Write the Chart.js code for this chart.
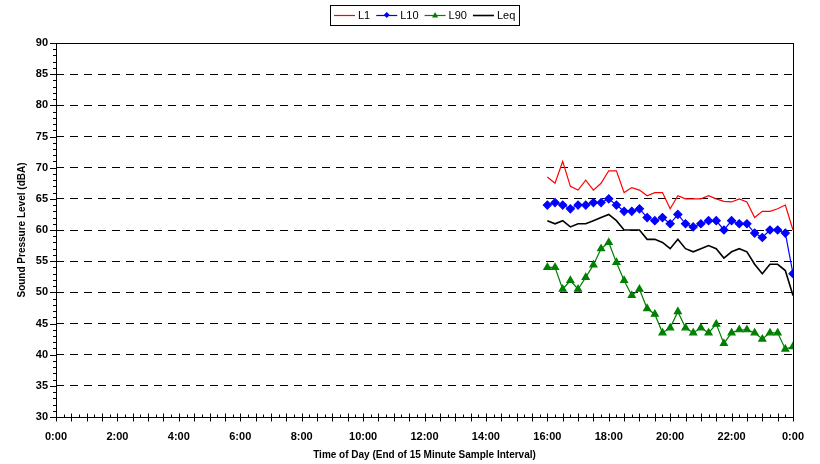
<!DOCTYPE html>
<html>
<head>
<meta charset="utf-8">
<style>
  html, body { margin: 0; padding: 0; background: #fff; }
  #wrap { width: 820px; height: 464px; }
</style>
<script src="https://cdn.jsdelivr.net/npm/chart.js@4.4.1/dist/chart.umd.min.js"></script>
</head>
<body>
<div id="wrap"><canvas id="myChart" width="820" height="464"></canvas></div>
<script>
// end of each 15 minute interval
var times = ['16:00','16:15','16:30','16:45','17:00','17:15','17:30','17:45',
  '18:00','18:15','18:30','18:45','19:00','19:15','19:30','19:45',
  '20:00','20:15','20:30','20:45','21:00','21:15','21:30','21:45',
  '22:00','22:15','22:30','22:45','23:00','23:15','23:30','23:45','0:00'];

var L1 = [68.5, 67.5, 71.0, 67.0, 66.4, 68.0, 66.4, 67.5, 69.5, 69.5, 66.0, 66.8, 66.4, 65.5, 66.0, 66.0,
  63.4, 65.5, 65.0, 65.0, 65.0, 65.5, 65.0, 64.6, 64.5, 65.0, 64.5, 62.0, 63.0, 63.0, 63.4, 64.0, 60.0];
var L10 = [64.0, 64.4, 64.0, 63.4, 64.0, 64.0, 64.4, 64.4, 65.0, 64.0, 63.0, 63.0, 63.4, 62.0, 61.5, 62.0,
  61.0, 62.5, 61.0, 60.5, 61.0, 61.5, 61.5, 60.0, 61.5, 61.0, 61.0, 59.5, 58.8, 60.0, 60.0, 59.5, 53.0];
var L90 = [54.0, 54.0, 50.5, 51.9, 50.5, 52.4, 54.4, 57.0, 58.0, 54.8, 51.9, 49.5, 50.5, 47.4, 46.5, 43.5,
  44.3, 46.9, 44.3, 43.5, 44.3, 43.5, 44.9, 41.8, 43.5, 44.0, 44.0, 43.5, 42.5, 43.5, 43.5, 40.9, 41.3];
var Leq = [61.5, 61.0, 61.5, 60.5, 61.0, 61.0, 61.5, 62.0, 62.5, 61.5, 60.0, 60.0, 60.0, 58.5, 58.5, 58.0,
  57.0, 58.5, 57.0, 56.5, 57.0, 57.5, 57.0, 55.5, 56.5, 57.0, 56.5, 54.5, 53.0, 54.5, 54.5, 53.5, 49.5];

// time strings -> hours on a 0..24 axis (midnight at the end becomes 24)
var hours = [];
times.forEach(function(t, i) {
  var p = t.split(':');
  var h = +p[0] + p[1] / 60;
  if (i > 0 && h < hours[i - 1]) h += 24;
  hours.push(h);
});

function pts(arr) {
  return arr.map(function(v, i) { return { x: hours[i], y: v }; });
}

Chart.defaults.font.family = "'Liberation Sans', Arial, sans-serif";
Chart.defaults.color = '#000';

// frame, small tick marks and the boxed legend
var decor = {
  id: 'decor',
  afterDraw: function(chart) {
    var c = chart.ctx, a = chart.chartArea;
    var xs = chart.scales.x, ys = chart.scales.y;
    c.save();
    c.strokeStyle = '#000';
    c.lineWidth = 1;
    c.strokeRect(Math.round(a.left) + 0.5, Math.round(a.top) + 0.5,
      Math.round(a.right - a.left), Math.round(a.bottom - a.top));

    c.beginPath();
    for (var v = 30; v <= 90; v++) {
      var y = Math.round(ys.getPixelForValue(v)) + 0.5;
      var len = v % 5 === 0 ? 6 : 3;
      c.moveTo(a.left - len, y);
      c.lineTo(a.left, y);
    }
    for (var q = 0; q <= 96; q++) {
      var x = Math.round(xs.getPixelForValue(q / 4)) + 0.5;
      var b = Math.round(a.bottom) + 0.5;
      if (q % 2 === 0) { c.moveTo(x, b - 4); c.lineTo(x, b + 4); }
      else { c.moveTo(x, b - 3); c.lineTo(x, b); }
    }
    c.stroke();

    // legend
    c.font = "11px 'Liberation Sans', Arial, sans-serif";
    c.textBaseline = 'middle';
    var items = chart.data.datasets;
    var lineLen = 21, gap = 3, sep = 6, pad = 4;
    var total = pad * 2;
    items.forEach(function(d, i) {
      total += lineLen + gap + c.measureText(d.label).width + (i < items.length - 1 ? sep : 0);
    });
    var cx = (a.left + a.right) / 2;
    var x0 = Math.round(cx - total / 2), top = 5, h = 20, my = top + h / 2;
    c.fillStyle = '#fff';
    c.fillRect(x0, top, total, h);
    c.strokeRect(x0 + 0.5, top + 0.5, Math.round(total), h);
    var px = x0 + pad;
    items.forEach(function(d) {
      c.strokeStyle = d.borderColor;
      c.lineWidth = d.borderWidth;
      c.beginPath();
      c.moveTo(px, my + 0.5);
      c.lineTo(px + lineLen, my + 0.5);
      c.stroke();
      var mx = px + lineLen / 2, r = 3;
      c.fillStyle = d.borderColor;
      if (d.pointStyle === 'rectRot') {
        c.beginPath();
        c.moveTo(mx, my - r); c.lineTo(mx + r, my); c.lineTo(mx, my + r); c.lineTo(mx - r, my);
        c.closePath(); c.fill();
      } else if (d.pointStyle === 'triangle') {
        c.beginPath();
        c.moveTo(mx, my - r); c.lineTo(mx + r, my + r * 0.8); c.lineTo(mx - r, my + r * 0.8);
        c.closePath(); c.fill();
      }
      px += lineLen + gap;
      c.fillStyle = '#000';
      c.fillText(d.label, px, my + 0.5);
      px += c.measureText(d.label).width + sep;
    });
    c.restore();
  }
};

var ctx = document.getElementById('myChart').getContext('2d');
var myChart = new Chart(ctx, {
  type: 'line',
  data: {
    datasets: [{
      label: 'L1',
      data: pts(L1),
      borderColor: '#ff0000',
      borderWidth: 1.2,
      pointRadius: 0
    }, {
      label: 'L10',
      data: pts(L10),
      borderColor: '#0000ff',
      backgroundColor: '#0000ff',
      borderWidth: 1.2,
      pointStyle: 'rectRot',
      pointRadius: 4
    }, {
      label: 'L90',
      data: pts(L90),
      borderColor: '#008000',
      backgroundColor: '#008000',
      borderWidth: 1.2,
      pointStyle: 'triangle',
      pointRadius: 4
    }, {
      label: 'Leq',
      data: pts(Leq),
      borderColor: '#000000',
      borderWidth: 1.6,
      pointRadius: 0
    }]
  },
  options: {
    responsive: false,
    animation: false,
    layout: { padding: { top: 43, right: 27, bottom: 0, left: 0 } },
    elements: { line: { tension: 0 }, point: { borderWidth: 0 } },
    plugins: {
      legend: { display: false },
      tooltip: { enabled: false }
    },
    scales: {
      x: {
        type: 'linear',
        min: 0,
        max: 24,
        afterFit: function(s) { s.height = 47; },
        ticks: {
          stepSize: 2,
          padding: 13,
          font: { size: 11, weight: 'bold' },
          maxRotation: 0,
          callback: function(v) { return (v % 24) + ':00'; }
        },
        grid: { display: false, drawTicks: false },
        border: { display: false },
        title: {
          display: true,
          text: 'Time of Day (End of 15 Minute Sample Interval)',
          font: { size: 10, weight: 'bold' },
          padding: { top: 0, bottom: 3 }
        }
      },
      y: {
        min: 30,
        max: 90,
        afterFit: function(s) { s.width = 56; },
        ticks: {
          stepSize: 5,
          padding: 8,
          font: { size: 11, weight: 'bold' }
        },
        grid: { color: '#000', lineWidth: 1, drawTicks: false },
        border: { display: false, dash: [8, 6] },
        title: {
          display: true,
          text: 'Sound Pressure Level (dBA)',
          font: { size: 10, weight: 'bold' },
          padding: { top: 16, bottom: 0 }
        }
      }
    }
  },
  plugins: [decor]
});
</script>
</body>
</html>
